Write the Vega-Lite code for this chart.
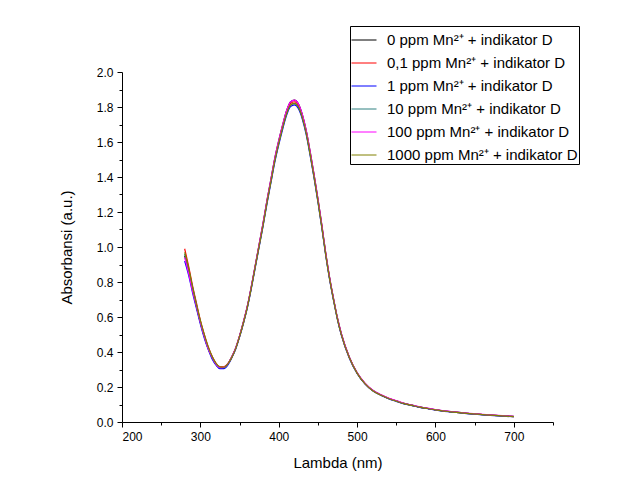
{
  "$schema": "https://vega.github.io/schema/vega-lite/v6.json",
  "width": 431,
  "height": 350,
  "autosize": {"type": "none"},
  "padding": {"left": 122, "top": 72, "right": 78, "bottom": 76},
  "background": "white",
  "config": {
    "view": {"stroke": null},
    "font": "Liberation Sans",
    "axis": {
      "grid": false,
      "domainColor": "black",
      "domainWidth": 1,
      "tickColor": "black",
      "labelColor": "black",
      "labelFont": "Liberation Sans",
      "labelFontSize": 12,
      "titleFont": "Liberation Sans",
      "titleFontSize": 15,
      "titleFontWeight": "normal",
      "titleColor": "black"
    }
  },
  "data": {
    "values": [
      {"lambda": 280, "s0": 0.95, "s01": 0.99, "s1": 0.92, "s10": 0.96, "s100": 0.94, "s1000": 0.97},
      {"lambda": 285, "s0": 0.86, "s01": 0.89, "s1": 0.84, "s10": 0.87, "s100": 0.85, "s1000": 0.88},
      {"lambda": 290, "s0": 0.76, "s01": 0.78, "s1": 0.74, "s10": 0.77, "s100": 0.75, "s1000": 0.77},
      {"lambda": 295, "s0": 0.66, "s01": 0.68, "s1": 0.65, "s10": 0.67, "s100": 0.66, "s1000": 0.67},
      {"lambda": 300, "s0": 0.57, "s01": 0.58, "s1": 0.56, "s10": 0.57, "s100": 0.57, "s1000": 0.58},
      {"lambda": 305, "s0": 0.49, "s01": 0.5, "s1": 0.48, "s10": 0.49, "s100": 0.49, "s1000": 0.5},
      {"lambda": 310, "s0": 0.42, "s01": 0.43, "s1": 0.415, "s10": 0.42, "s100": 0.42, "s1000": 0.43},
      {"lambda": 315, "s0": 0.37, "s01": 0.375, "s1": 0.36, "s10": 0.37, "s100": 0.37, "s1000": 0.375},
      {"lambda": 320, "s0": 0.33, "s01": 0.335, "s1": 0.325, "s10": 0.33, "s100": 0.33, "s1000": 0.335},
      {"lambda": 325, "s0": 0.31, "s01": 0.315, "s1": 0.305, "s10": 0.31, "s100": 0.31, "s1000": 0.315},
      {"lambda": 330, "s0": 0.31, "s01": 0.315, "s1": 0.305, "s10": 0.31, "s100": 0.312, "s1000": 0.313},
      {"lambda": 335, "s0": 0.33, "s01": 0.333, "s1": 0.325, "s10": 0.33, "s100": 0.332, "s1000": 0.332},
      {"lambda": 340, "s0": 0.372, "s01": 0.37, "s1": 0.366, "s10": 0.368, "s100": 0.372, "s1000": 0.368},
      {"lambda": 345, "s0": 0.422, "s01": 0.42, "s1": 0.416, "s10": 0.418, "s100": 0.422, "s1000": 0.418},
      {"lambda": 350, "s0": 0.492, "s01": 0.49, "s1": 0.485, "s10": 0.488, "s100": 0.492, "s1000": 0.488},
      {"lambda": 355, "s0": 0.573, "s01": 0.57, "s1": 0.564, "s10": 0.567, "s100": 0.573, "s1000": 0.567},
      {"lambda": 360, "s0": 0.663, "s01": 0.66, "s1": 0.653, "s10": 0.657, "s100": 0.663, "s1000": 0.657},
      {"lambda": 365, "s0": 0.774, "s01": 0.77, "s1": 0.762, "s10": 0.766, "s100": 0.774, "s1000": 0.766},
      {"lambda": 370, "s0": 0.894, "s01": 0.89, "s1": 0.881, "s10": 0.886, "s100": 0.894, "s1000": 0.886},
      {"lambda": 375, "s0": 1.015, "s01": 1.01, "s1": 1.0, "s10": 1.005, "s100": 1.015, "s1000": 1.005},
      {"lambda": 380, "s0": 1.136, "s01": 1.13, "s1": 1.119, "s10": 1.124, "s100": 1.136, "s1000": 1.124},
      {"lambda": 385, "s0": 1.266, "s01": 1.26, "s1": 1.247, "s10": 1.254, "s100": 1.266, "s1000": 1.254},
      {"lambda": 390, "s0": 1.387, "s01": 1.38, "s1": 1.366, "s10": 1.373, "s100": 1.387, "s1000": 1.373},
      {"lambda": 395, "s0": 1.508, "s01": 1.5, "s1": 1.485, "s10": 1.493, "s100": 1.508, "s1000": 1.493},
      {"lambda": 400, "s0": 1.608, "s01": 1.6, "s1": 1.584, "s10": 1.592, "s100": 1.608, "s1000": 1.592},
      {"lambda": 405, "s0": 1.698, "s01": 1.69, "s1": 1.673, "s10": 1.682, "s100": 1.698, "s1000": 1.682},
      {"lambda": 410, "s0": 1.779, "s01": 1.77, "s1": 1.752, "s10": 1.761, "s100": 1.779, "s1000": 1.761},
      {"lambda": 415, "s0": 1.829, "s01": 1.82, "s1": 1.802, "s10": 1.811, "s100": 1.829, "s1000": 1.811},
      {"lambda": 420, "s0": 1.839, "s01": 1.83, "s1": 1.812, "s10": 1.821, "s100": 1.839, "s1000": 1.821},
      {"lambda": 425, "s0": 1.819, "s01": 1.81, "s1": 1.792, "s10": 1.801, "s100": 1.819, "s1000": 1.801},
      {"lambda": 430, "s0": 1.759, "s01": 1.75, "s1": 1.733, "s10": 1.741, "s100": 1.759, "s1000": 1.741},
      {"lambda": 435, "s0": 1.668, "s01": 1.66, "s1": 1.643, "s10": 1.652, "s100": 1.668, "s1000": 1.652},
      {"lambda": 440, "s0": 1.548, "s01": 1.54, "s1": 1.525, "s10": 1.532, "s100": 1.548, "s1000": 1.532},
      {"lambda": 445, "s0": 1.417, "s01": 1.41, "s1": 1.396, "s10": 1.403, "s100": 1.417, "s1000": 1.403},
      {"lambda": 450, "s0": 1.276, "s01": 1.27, "s1": 1.257, "s10": 1.264, "s100": 1.276, "s1000": 1.264},
      {"lambda": 455, "s0": 1.126, "s01": 1.12, "s1": 1.109, "s10": 1.114, "s100": 1.126, "s1000": 1.114},
      {"lambda": 460, "s0": 0.965, "s01": 0.96, "s1": 0.95, "s10": 0.955, "s100": 0.965, "s1000": 0.955},
      {"lambda": 465, "s0": 0.824, "s01": 0.82, "s1": 0.812, "s10": 0.816, "s100": 0.824, "s1000": 0.816},
      {"lambda": 470, "s0": 0.704, "s01": 0.7, "s1": 0.693, "s10": 0.697, "s100": 0.704, "s1000": 0.697},
      {"lambda": 475, "s0": 0.593, "s01": 0.59, "s1": 0.584, "s10": 0.587, "s100": 0.593, "s1000": 0.587},
      {"lambda": 480, "s0": 0.503, "s01": 0.5, "s1": 0.495, "s10": 0.498, "s100": 0.503, "s1000": 0.498},
      {"lambda": 490, "s0": 0.372, "s01": 0.37, "s1": 0.366, "s10": 0.368, "s100": 0.372, "s1000": 0.368},
      {"lambda": 500, "s0": 0.281, "s01": 0.28, "s1": 0.277, "s10": 0.279, "s100": 0.282, "s1000": 0.279},
      {"lambda": 510, "s0": 0.221, "s01": 0.22, "s1": 0.218, "s10": 0.219, "s100": 0.222, "s1000": 0.219},
      {"lambda": 520, "s0": 0.181, "s01": 0.18, "s1": 0.178, "s10": 0.179, "s100": 0.182, "s1000": 0.179},
      {"lambda": 530, "s0": 0.156, "s01": 0.155, "s1": 0.153, "s10": 0.154, "s100": 0.157, "s1000": 0.154},
      {"lambda": 540, "s0": 0.136, "s01": 0.135, "s1": 0.133, "s10": 0.134, "s100": 0.137, "s1000": 0.134},
      {"lambda": 550, "s0": 0.121, "s01": 0.12, "s1": 0.118, "s10": 0.119, "s100": 0.122, "s1000": 0.119},
      {"lambda": 560, "s0": 0.106, "s01": 0.105, "s1": 0.104, "s10": 0.105, "s100": 0.107, "s1000": 0.105},
      {"lambda": 570, "s0": 0.096, "s01": 0.095, "s1": 0.094, "s10": 0.095, "s100": 0.097, "s1000": 0.095},
      {"lambda": 580, "s0": 0.086, "s01": 0.085, "s1": 0.084, "s10": 0.085, "s100": 0.087, "s1000": 0.085},
      {"lambda": 590, "s0": 0.078, "s01": 0.077, "s1": 0.076, "s10": 0.077, "s100": 0.079, "s1000": 0.077},
      {"lambda": 600, "s0": 0.07, "s01": 0.069, "s1": 0.068, "s10": 0.069, "s100": 0.071, "s1000": 0.069},
      {"lambda": 620, "s0": 0.059, "s01": 0.058, "s1": 0.057, "s10": 0.058, "s100": 0.06, "s1000": 0.058},
      {"lambda": 640, "s0": 0.05, "s01": 0.049, "s1": 0.048, "s10": 0.049, "s100": 0.051, "s1000": 0.049},
      {"lambda": 660, "s0": 0.043, "s01": 0.042, "s1": 0.041, "s10": 0.042, "s100": 0.044, "s1000": 0.042},
      {"lambda": 680, "s0": 0.037, "s01": 0.036, "s1": 0.035, "s10": 0.036, "s100": 0.038, "s1000": 0.036},
      {"lambda": 700, "s0": 0.032, "s01": 0.031, "s1": 0.03, "s10": 0.031, "s100": 0.033, "s1000": 0.031}
    ]
  },
  "transform": [
    {"fold": ["s0", "s01", "s1", "s10", "s100", "s1000"], "as": ["key", "A"]}
  ],
  "mark": {"type": "line", "strokeWidth": 1.2, "interpolate": "monotone"},
  "encoding": {
    "x": {
      "field": "lambda",
      "type": "quantitative",
      "scale": {"domain": [200, 750], "nice": false, "zero": false},
      "axis": {
        "title": "Lambda (nm)",
        "values": [200, 250, 300, 350, 400, 450, 500, 550, 600, 650, 700, 750],
        "labelExpr": "datum.value % 100 === 0 ? datum.label : ''",
        "tickSize": {"condition": {"test": "datum.value % 100 === 0", "value": 5}, "value": 3},
        "labelPadding": 4,
        "titlePadding": 13
      }
    },
    "y": {
      "field": "A",
      "type": "quantitative",
      "scale": {"domain": [0, 2], "nice": false},
      "axis": {
        "title": "Absorbansi (a.u.)",
        "values": [0, 0.1, 0.2, 0.3, 0.4, 0.5, 0.6, 0.7, 0.8, 0.9, 1.0, 1.1, 1.2, 1.3, 1.4, 1.5, 1.6, 1.7, 1.8, 1.9, 2.0],
        "format": ".1f",
        "labelExpr": "round(datum.value * 10) % 2 === 0 ? datum.label : ''",
        "tickSize": {"condition": {"test": "round(datum.value * 10) % 2 === 0", "value": 5}, "value": 3},
        "labelPadding": 4,
        "titlePadding": 22
      }
    },
    "color": {
      "field": "key",
      "type": "nominal",
      "scale": {
        "domain": ["s0", "s01", "s1", "s10", "s100", "s1000"],
        "range": ["#000000", "#ff0000", "#0000ff", "#2e8080", "#ff00ff", "#808000"]
      },
      "legend": {
        "title": null,
        "orient": "none",
        "legendX": 228,
        "legendY": -46,
        "labelExpr": "{'s0': '0 ppm Mn²⁺ + indikator D', 's01': '0,1 ppm Mn²⁺ + indikator D', 's1': '1 ppm Mn²⁺ + indikator D', 's10': '10 ppm Mn²⁺ + indikator D', 's100': '100 ppm Mn²⁺ + indikator D', 's1000': '1000 ppm Mn²⁺ + indikator D'}[datum.value]",
        "labelFont": "Liberation Sans",
        "labelFontSize": 15,
        "labelColor": "black",
        "labelLimit": 400,
        "labelOffset": 10,
        "symbolType": "stroke",
        "symbolSize": 625,
        "symbolStrokeWidth": 1,
        "rowPadding": 2,
        "padding": 1,
        "strokeColor": "black",
        "fillColor": "white"
      }
    }
  }
}
